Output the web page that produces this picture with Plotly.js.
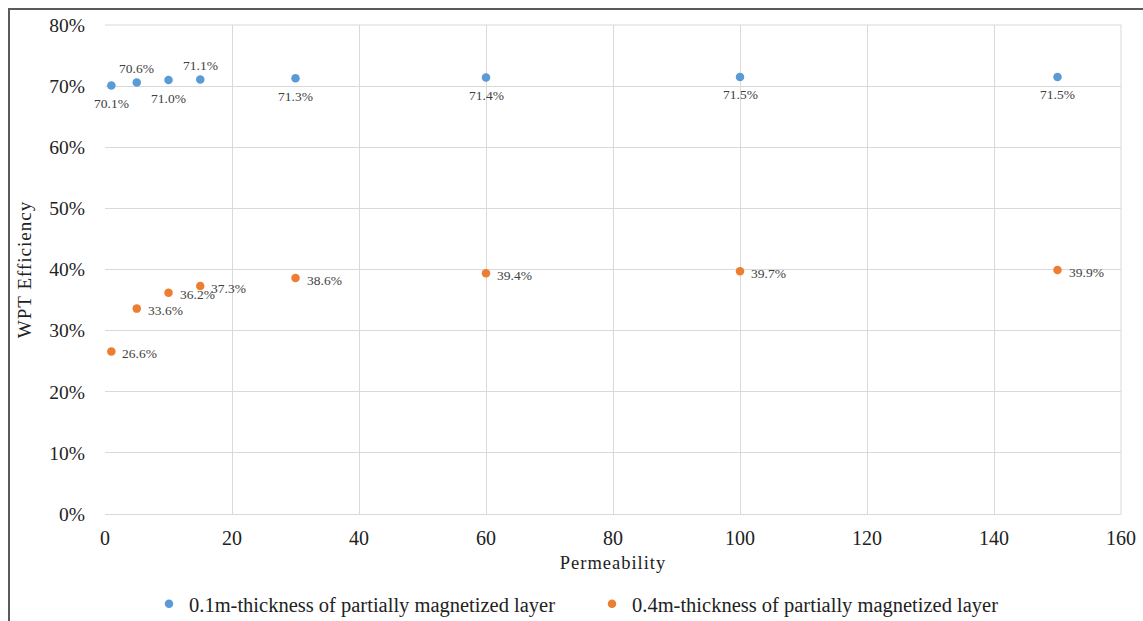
<!DOCTYPE html>
<html>
<head>
<meta charset="utf-8">
<script src="https://cdn.plot.ly/plotly-3.0.1.min.js"></script>
<style>
html,body{margin:0;padding:0;background:#fff;}
#chart{width:1143px;height:621px;}
#chart .g-xtitle text, #chart .g-ytitle text{letter-spacing:1px;}
</style>
</head>
<body>
<div id="chart"></div>
<script>
var permeability = [1, 5, 10, 15, 30, 60, 100, 150];
var thin01 = [70.1, 70.6, 71.0, 71.1, 71.3, 71.4, 71.5, 71.5];
var thick04 = [26.6, 33.6, 36.2, 37.3, 38.6, 39.4, 39.7, 39.9];
var seriesNames = ['0.1m-thickness of partially magnetized layer', '0.4m-thickness of partially magnetized layer'];
var thinLabelAbove = [false, true, false, true, false, false, false, false];
var yTicks = [0, 10, 20, 30, 40, 50, 60, 70, 80];
var xTicks = [0, 20, 40, 60, 80, 100, 120, 140, 160];

var serif = "'Liberation Serif', 'Times New Roman', serif";
function lbl(v){ return v.toFixed(1) + '%'; }
var labelFont = {family: serif, size: 13.5, color: '#404040'};

var traces = [
  {x: permeability, y: thin01, name: seriesNames[0], type: 'scatter', mode: 'markers',
   marker: {color: '#5B9BD5', size: 8.5}, cliponaxis: false},
  {x: permeability, y: thick04, name: seriesNames[1], type: 'scatter', mode: 'markers',
   marker: {color: '#ED7D31', size: 8.5}, cliponaxis: false}
];

var annotations = [];
permeability.forEach(function(p, i){
  annotations.push({x: p, y: thin01[i], xref: 'x', yref: 'y', text: lbl(thin01[i]), showarrow: false,
    font: labelFont, xanchor: 'center', yanchor: 'middle', yshift: thinLabelAbove[i] ? 14 : -18});
  annotations.push({x: p, y: thick04[i], xref: 'x', yref: 'y', text: lbl(thick04[i]), showarrow: false,
    font: labelFont, xanchor: 'left', yanchor: 'middle', xshift: 9, yshift: -2});
});

var L = 105, R = 22, T = 25, B = 107, W = 1143, H = 621;
var pw = W - L - R, ph = H - T - B;
function px(x){ return (x - L) / pw; }
function py(y){ return (H - B - y) / ph; }

var layout = {
  width: W, height: H,
  margin: {l: L, r: R, t: T, b: B, autoexpand: false},
  paper_bgcolor: '#fff', plot_bgcolor: '#fff',
  font: {family: serif, color: '#222'},
  showlegend: true,
  legend: {orientation: 'h', x: px(149), xanchor: 'left', y: py(604), yanchor: 'middle',
           entrywidth: 398, entrywidthmode: 'pixels',
           font: {family: serif, size: 20.5, color: '#222'}, itemwidth: 30, tracegroupgap: 0},
  annotations: annotations,
  xaxis: {range: [0, 160], tickvals: xTicks, showgrid: true, gridcolor: '#d9d9d9', gridwidth: 1,
          zeroline: false, showline: false, ticks: 'outside', ticklen: 6, tickcolor: 'rgba(0,0,0,0)',
          tickfont: {family: serif, size: 20, color: '#222'}, fixedrange: true,
          title: {text: 'Permeability', font: {family: serif, size: 18.5, color: '#222'}, standoff: 8}},
  yaxis: {range: [0, 80], tickvals: yTicks, ticktext: yTicks.map(function(v){return v + '%';}),
          showgrid: true, gridcolor: '#d9d9d9', gridwidth: 1, zeroline: true, zerolinecolor: '#d9d9d9',
          zerolinewidth: 1, showline: false, ticks: 'outside', ticklen: 15, tickcolor: 'rgba(0,0,0,0)',
          tickfont: {family: serif, size: 19.5, color: '#222'}, fixedrange: true,
          title: {text: 'WPT Efficiency', font: {family: serif, size: 19, color: '#222'}, standoff: 12}},
  shapes: [
    {type: 'line', xref: 'paper', yref: 'paper', x0: px(9), x1: px(1150), y0: py(9), y1: py(9),
     line: {color: '#5a5a5a', width: 2}},
    {type: 'line', xref: 'paper', yref: 'paper', x0: px(9), x1: px(9), y0: py(8), y1: py(630),
     line: {color: '#5a5a5a', width: 2}},
    {type: 'line', xref: 'paper', yref: 'paper', x0: 1, x1: 1, y0: 0, y1: 1,
     line: {color: '#d9d9d9', width: 1}},
    {type: 'line', xref: 'paper', yref: 'paper', x0: 0, x1: 1, y0: 1, y1: 1,
     line: {color: '#d9d9d9', width: 1}}
  ]
};

Plotly.newPlot('chart', traces, layout, {displayModeBar: false, staticPlot: true});
</script>
</body>
</html>
